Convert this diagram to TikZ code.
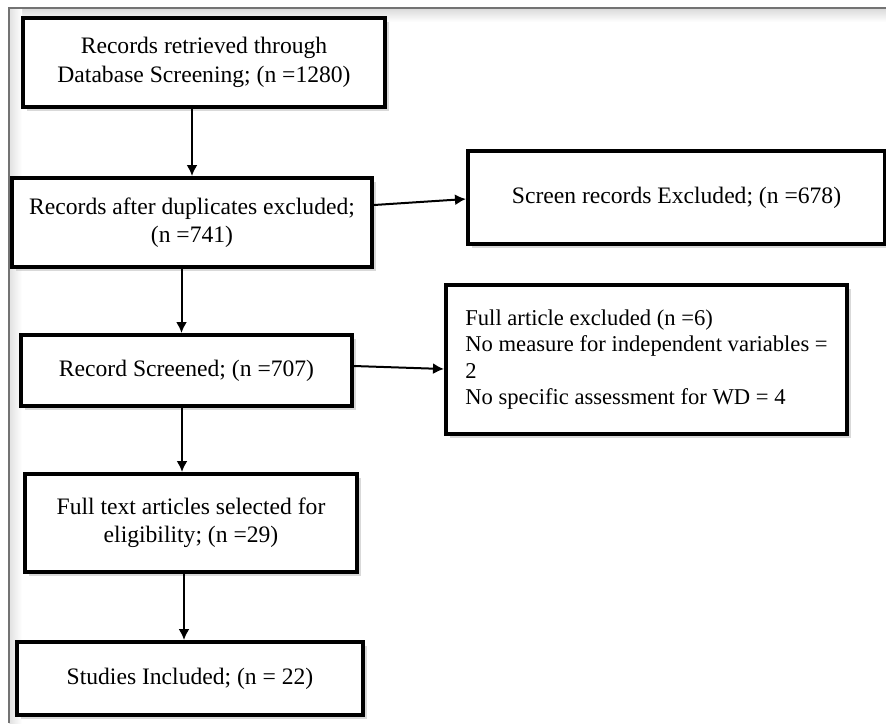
\documentclass[tikz,border=0pt]{standalone}
\usepackage{fontspec}
\setmainfont{Liberation Serif}
\usetikzlibrary{arrows.meta}
\usetikzlibrary{shadows}
\usetikzlibrary{calc}
\tikzset{flowbox/.style = {draw, line width = 2pt, fill = white, inner sep = 0, align = center,
    font = \fontsize{11.8}{14.2}\selectfont,
    drop shadow = {shadow xshift = 2pt, shadow yshift = -2pt, fill = black!25, opacity = 0.6}}}
\tikzset{arr/.style = {line width = 1pt, -{Latex[length = 5.5pt, width = 5.5pt]}}}
\definecolor{framegray}{rgb}{0.45, 0.45, 0.45}

\begin{document}
\begin{tikzpicture}[x = 0.5pt, y = -0.5pt]

       \useasboundingbox (0, 0) rectangle (886, 723);

       % frame
       \shade [top color = black!15, bottom color = white] (9, 8) rectangle (886, 22);
       \shade [left color = black!12, right color = white] (9, 8) rectangle (22, 723);
       \draw [framegray, line width = 1.2pt] (9, 723) -- (9, 8) -- (886, 8);

       \node [flowbox, minimum width = 181pt, minimum height = 44.5pt] (retrieved) at (204, 62.5)
         {Records retrieved through\\Database Screening; (n =1280)};
       \node [flowbox, minimum width = 180pt, minimum height = 44.5pt] (dupl) at (192, 222.5)
         {Records after duplicates excluded;\\(n =741)};
       \node [flowbox, minimum width = 208.5pt, minimum height = 46.5pt] (screenexcl) at (676.5, 197.5)
         {Screen records Excluded; (n =678)};
       \node [flowbox, minimum width = 165.5pt, minimum height = 35.5pt] (screened) at (186.5, 370.5)
         {Record Screened; (n =707)};
       \node [flowbox, align = left, minimum width = 200.5pt, minimum height = 74.5pt,
              font = \fontsize{11.3}{13.3}\selectfont] (fullexcl) at (646.5, 359.5)
         {Full article excluded (n =6)\\No measure for independent variables =\\2\\No specific assessment for WD = 4};
       \node [flowbox, minimum width = 166pt, minimum height = 49pt] (fulltext) at (191, 523)
         {Full text articles selected for\\eligibility; (n =29)};
       \node [flowbox, minimum width = 173pt, minimum height = 36.5pt] (included) at (190, 678.5)
         {Studies Included; (n = 22)};

       \draw [arr] (retrieved.south -| dupl.north) -- (dupl.north);
       \draw [arr] ([yshift = 8.75pt] dupl.east) -- ([yshift = -0.75pt] screenexcl.west);
       \draw [arr] ($(dupl.south -| screened.north) + (-5, 0)$) -- ($(screened.north) + (-5, 0)$);
       \draw [arr] ([yshift = 2.25pt] screened.east) -- ([yshift = -4.75pt] fullexcl.west);
       \draw [arr] ($(screened.south) + (-4.5, 0)$) -- ($(fulltext.north -| screened.south) + (-4.5, 0)$);
       \draw [arr] ($(fulltext.south) + (-7, 0)$) -- ($(included.north -| fulltext.south) + (-7, 0)$);
    \end{tikzpicture}
\end{document}
